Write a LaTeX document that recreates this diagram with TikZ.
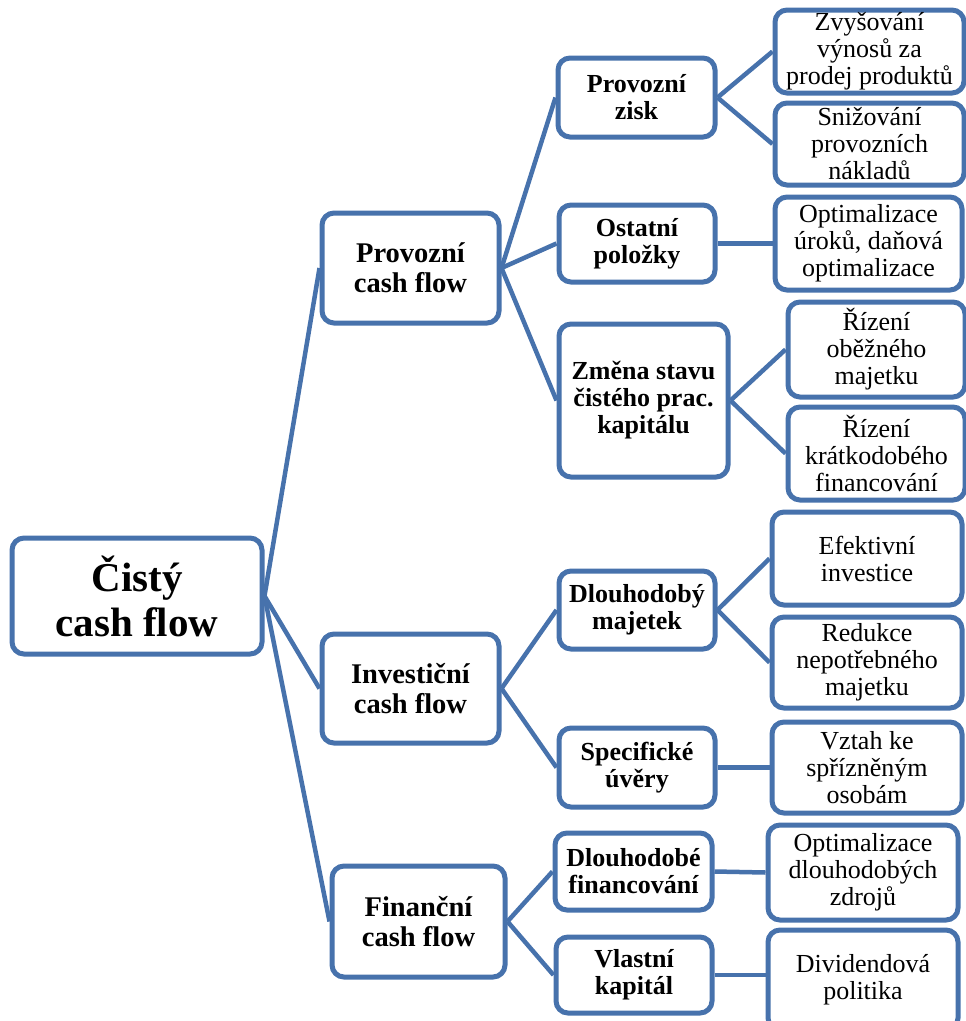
\documentclass[tikz,border=0pt]{standalone}
\usepackage{fontspec}
\setmainfont{Liberation Serif}
\definecolor{boxblue}{RGB}{71,114,172}
\tikzset{
  box/.style={draw=boxblue, line width=5pt, rounded corners=12pt, fill=white,
    align=center, inner sep=0pt, text=black},
  rootbox/.style={box, font=\fontsize{41}{45}\selectfont\bfseries},
  lvone/.style={box, font=\fontsize{28.5}{30}\selectfont\bfseries},
  lvtwo/.style={box, font=\fontsize{26}{27}\selectfont\bfseries},
  lvthree/.style={box, font=\fontsize{26}{27}\selectfont},
  link/.style={draw=boxblue, line width=4.5pt}
}
\begin{document}
\begin{tikzpicture}[x=1pt,y=-1pt]
\useasboundingbox (0,0) rectangle (966,1021);
% root and level 1
\node[rootbox, minimum width=250, minimum height=116] (root) at (137,596) {Čistý\\cash flow};
\node[lvone, minimum width=177, minimum height=110] (pcf) at (410.5,268) {Provozní\\cash flow};
\node[lvone, minimum width=177, minimum height=109] (icf) at (410.5,688.5) {Investiční\\cash flow};
\node[lvone, minimum width=173, minimum height=111] (fcf) at (418.5,921.5) {Finanční\\cash flow};
% level 2
\node[lvtwo, minimum width=157, minimum height=79] (pz) at (636.5,97.5) {Provozní\\zisk};
\node[lvtwo, minimum width=156, minimum height=77] (op) at (637,243.5) {Ostatní\\položky};
\node[lvtwo, minimum width=169, minimum height=153] (zs) at (643.5,400.5) {Změna stavu\\čistého prac.\\kapitálu};
\node[lvtwo, minimum width=156, minimum height=78] (dm) at (637,610) {Dlouhodobý\\majetek};
\node[lvtwo, minimum width=156, minimum height=79] (su) at (637,767.5) {Specifické\\úvěry};
\node[lvtwo, minimum width=157, minimum height=77] (df) at (633.5,871.5) {Dlouhodobé\\financování};
\node[lvtwo, minimum width=156, minimum height=76] (vk) at (634,975) {Vlastní\\kapitál};
% level 3
\node[lvthree, minimum width=189, minimum height=83] (zv) at (869.5,51.5) {Zvyšování\\výnosů za\\prodej produktů};
\node[lvthree, minimum width=189, minimum height=82] (sn) at (869.5,144) {Snižování\\provozních\\nákladů};
\node[lvthree, minimum width=187, minimum height=93] (ou) at (868.5,243.5) {Optimalizace\\úroků, daňová\\optimalizace};
\node[lvthree, minimum width=177, minimum height=95] (ro) at (876.5,349.5) {Řízení\\oběžného\\majetku};
\node[lvthree, minimum width=177, minimum height=93] (rk) at (876.5,453.5) {Řízení\\krátkodobého\\financování};
\node[lvthree, minimum width=190, minimum height=93] (ei) at (867,558.5) {Efektivní\\investice};
\node[lvthree, minimum width=190, minimum height=91] (rn) at (867,662.5) {Redukce\\nepotřebného\\majetku};
\node[lvthree, minimum width=190, minimum height=91] (vz) at (867,767.5) {Vztah ke\\spřízněným\\osobám};
\node[lvthree, minimum width=190, minimum height=95] (od) at (863,872.5) {Optimalizace\\dlouhodobých\\zdrojů};
\node[lvthree, minimum width=190, minimum height=100] (dp) at (863,980) {Dividendová\\politika};
% connectors
\draw[link] (root.east) -- (pcf.west);
\draw[link] (root.east) -- (icf.west);
\draw[link] (root.east) -- (fcf.west);
\draw[link] (pcf.east) -- (pz.west);
\draw[link] (pcf.east) -- (op.west);
\draw[link] (pcf.east) -- (zs.west);
\draw[link] (pz.east) -- (zv.west);
\draw[link] (pz.east) -- (sn.west);
\draw[link] (op.east) -- (ou.west);
\draw[link] (zs.east) -- (ro.west);
\draw[link] (zs.east) -- (rk.west);
\draw[link] (icf.east) -- (dm.west);
\draw[link] (icf.east) -- (su.west);
\draw[link] (dm.east) -- (ei.west);
\draw[link] (dm.east) -- (rn.west);
\draw[link] (su.east) -- (vz.west);
\draw[link] (fcf.east) -- (df.west);
\draw[link] (fcf.east) -- (vk.west);
\draw[link] (df.east) -- (od.west);
\draw[link] (vk.east) -- (vk.east -| dp.west);
\end{tikzpicture}
\end{document}
